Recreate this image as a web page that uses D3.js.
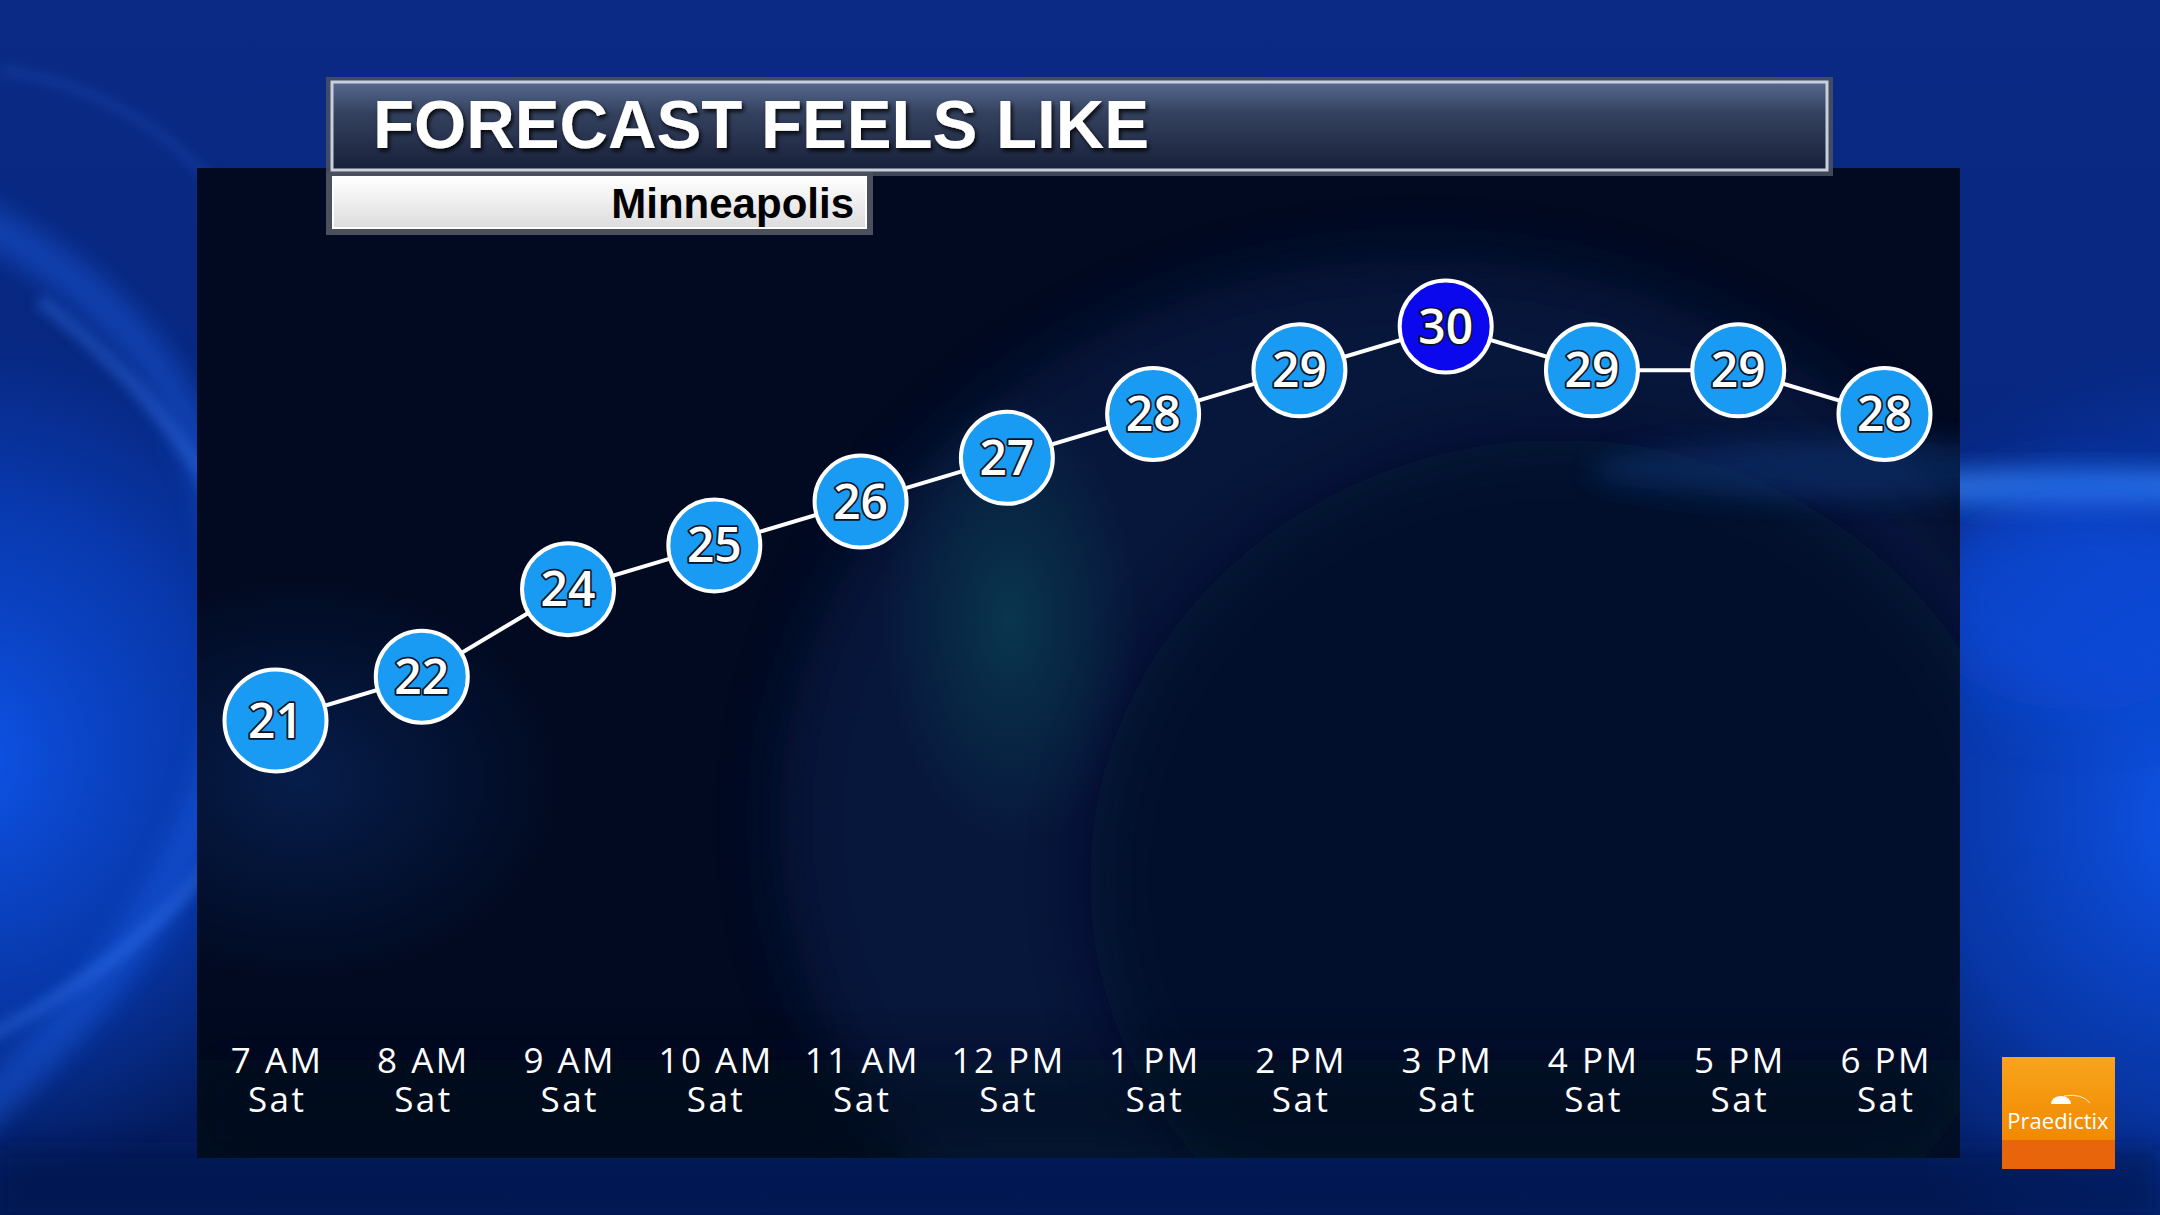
<!DOCTYPE html>
<html>
<head>
<meta charset="utf-8">
<script src="https://cdn.jsdelivr.net/npm/d3@7"></script>
<style>
  html, body { margin: 0; padding: 0; background: #031a5e; overflow: hidden; }
  svg { display: block; }
</style>
</head>
<body>
<svg id="chart" width="2160" height="1215"></svg>
<script>
// ---------- DATA ----------
const hours = ["7 AM", "8 AM", "9 AM", "10 AM", "11 AM", "12 PM", "1 PM", "2 PM", "3 PM", "4 PM", "5 PM", "6 PM"];
const days = ["Sat", "Sat", "Sat", "Sat", "Sat", "Sat", "Sat", "Sat", "Sat", "Sat", "Sat", "Sat"];
const feelsLike = [21, 22, 24, 25, 26, 27, 28, 29, 30, 29, 29, 28];
const titleText = "FORECAST FEELS LIKE";
const subtitleText = "Minneapolis";
const logoText = "Praedictix";

// ---------- SETUP ----------
const W = 2160, H = 1215;
const svg = d3.select("#chart");
const defs = svg.append("defs");

function radial(id, stops, cx = "50%", cy = "50%", r = "50%") {
  const g = defs.append("radialGradient").attr("id", id).attr("cx", cx).attr("cy", cy).attr("r", r);
  stops.forEach(s => g.append("stop").attr("offset", s[0]).attr("stop-color", s[1]).attr("stop-opacity", s[2] === undefined ? 1 : s[2]));
}
function linear(id, stops, x1, y1, x2, y2) {
  const g = defs.append("linearGradient").attr("id", id)
    .attr("x1", x1).attr("y1", y1).attr("x2", x2).attr("y2", y2);
  stops.forEach(s => g.append("stop").attr("offset", s[0]).attr("stop-color", s[1]).attr("stop-opacity", s[2] === undefined ? 1 : s[2]));
}
function blur(id, sd) {
  defs.append("filter").attr("id", id).attr("x", "-50%").attr("y", "-50%").attr("width", "200%").attr("height", "200%")
    .append("feGaussianBlur").attr("stdDeviation", sd);
}

linear("bgBase", [[0, "#0a2a85"], [0.45, "#06267e"], [1, "#031a58"]], "0", "0", "0", "1");
radial("blobBlue", [[0, "#0e55ea", 1], [0.6, "#0a46d0", 0.6], [1, "#0a40c0", 0]]);
radial("blobTeal", [[0, "#0b5560", 0.5], [1, "#0b5560", 0]]);
radial("blobNavy", [[0, "#0a2a66", 0.6], [1, "#0a2a66", 0]]);
linear("titleFill", [[0, "#56698f"], [0.35, "#34425f"], [1, "#18203a"]], "0", "0", "0", "1");
linear("subFill", [[0, "#ffffff"], [1, "#dcdcdc"]], "0", "0", "0", "1");
linear("logoTop", [[0, "#f8a41d"], [1, "#f18900"]], "0", "0", "0", "1");
blur("b30", 30);
blur("b12", 12);
blur("b6", 6);
defs.append("filter").attr("id", "shadow").attr("x", "-10%").attr("y", "-30%").attr("width", "130%").attr("height", "160%")
  .append("feDropShadow").attr("dx", 2).attr("dy", 3).attr("stdDeviation", 2).attr("flood-color", "#000").attr("flood-opacity", 0.85);

// ---------- BACKGROUND ----------
const bg = svg.append("g");
bg.append("rect").attr("width", W).attr("height", H).attr("fill", "url(#bgBase)");
bg.append("ellipse").attr("cx", -40).attr("cy", 760).attr("rx", 420).attr("ry", 430).attr("fill", "url(#blobBlue)");
bg.append("ellipse").attr("cx", 2200).attr("cy", 820).attr("rx", 420).attr("ry", 480).attr("fill", "url(#blobBlue)");
bg.append("path")
  .attr("d", "M -200,1260 C 150,1000 260,800 230,560 C 200,350 60,240 -120,180")
  .attr("fill", "none").attr("stroke", "#1f63f0").attr("stroke-width", 40).attr("opacity", 0.4).attr("filter", "url(#b12)");
bg.append("path")
  .attr("d", "M -150,1100 C 200,960 320,780 260,600 C 220,470 140,380 40,300")
  .attr("fill", "none").attr("stroke", "#3a7cf5").attr("stroke-width", 14).attr("opacity", 0.35).attr("filter", "url(#b6)");
bg.append("path")
  .attr("d", "M 0,70 C 150,90 260,200 270,320")
  .attr("fill", "none").attr("stroke", "#3a70e8").attr("stroke-width", 6).attr("opacity", 0.3).attr("filter", "url(#b6)");
bg.append("ellipse").attr("cx", 2060).attr("cy", 488).attr("rx", 260).attr("ry", 18).attr("fill", "#3a86f8").attr("opacity", 0.75).attr("filter", "url(#b12)");
bg.append("ellipse").attr("cx", 2080).attr("cy", 600).attr("rx", 160).attr("ry", 110).attr("fill", "#0c50e4").attr("opacity", 0.6).attr("filter", "url(#b30)");
bg.append("rect").attr("x", 0).attr("y", 1150).attr("width", W).attr("height", 70).attr("fill", "#031650").attr("opacity", 0.6).attr("filter", "url(#b12)");

// ---------- PANEL ----------
const panel = { x: 197, y: 168, w: 1763, h: 990 };
defs.append("clipPath").attr("id", "panelClip").append("rect")
  .attr("x", panel.x).attr("y", panel.y).attr("width", panel.w).attr("height", panel.h);
const pg = svg.append("g").attr("clip-path", "url(#panelClip)");
pg.append("rect").attr("x", panel.x).attr("y", panel.y).attr("width", panel.w).attr("height", panel.h).attr("fill", "#010a21");
pg.append("ellipse").attr("cx", 1420).attr("cy", 820).attr("rx", 640).attr("ry", 560).attr("fill", "#0a2356").attr("opacity", 0.5).attr("filter", "url(#b30)");
pg.append("ellipse").attr("cx", 1560).attr("cy", 880).attr("rx", 470).attr("ry", 440).attr("fill", "#020c25").attr("opacity", 0.7).attr("filter", "url(#b30)");
pg.append("ellipse").attr("cx", 1010).attr("cy", 620).attr("rx", 130).attr("ry", 230).attr("fill", "url(#blobTeal)");
pg.append("ellipse").attr("cx", 300).attr("cy", 780).attr("rx", 260).attr("ry", 200).attr("fill", "url(#blobNavy)");
pg.append("ellipse").attr("cx", 1850).attr("cy", 470).attr("rx", 260).attr("ry", 30).attr("fill", "#0b3a80").attr("opacity", 0.45).attr("filter", "url(#b12)");
pg.append("rect").attr("x", panel.x).attr("y", 1060).attr("width", panel.w).attr("height", 100).attr("fill", "#010819").attr("opacity", 0.5).attr("filter", "url(#b30)");

// ---------- SCALES ----------
const x = d3.scalePoint().domain(hours).range([275.5, 1884.5]);
const y = d3.scaleLinear().domain([21, 30]).range([720.5, 326.5]);
const maxV = d3.max(feelsLike), minV = d3.min(feelsLike);
const pts = hours.map((h, i) => ({ h, d: days[i], v: feelsLike[i] }));

// ---------- X AXIS LABELS ----------
const xAxis = d3.axisBottom(x).tickSize(0).tickPadding(0);
const axG = svg.append("g").attr("transform", "translate(0,1040)").call(xAxis);
axG.select(".domain").remove();
axG.selectAll(".tick text").remove();
axG.selectAll(".tick line").remove();
axG.selectAll(".tick").each(function(h, i) {
  const t = d3.select(this).append("text")
    .attr("fill", "#ffffff")
    .attr("text-anchor", "middle")
    .style("font-family", "'Open Sans', 'Noto Sans', sans-serif")
    .style("font-size", "35px")
    .style("letter-spacing", "2.5px");
  t.append("tspan").attr("x", 1.2).attr("y", 33).text(h);
  t.append("tspan").attr("x", 1.2).attr("y", 72).text(days[i]);
});

// ---------- LINE ----------
svg.append("path").datum(pts)
  .attr("d", d3.line().x(d => x(d.h)).y(d => y(d.v)))
  .attr("fill", "none").attr("stroke", "#ffffff").attr("stroke-width", 4);

// ---------- MARKERS ----------
const mk = svg.append("g").selectAll("g").data(pts).join("g")
  .attr("transform", d => `translate(${x(d.h)},${y(d.v)})`);
mk.append("circle")
  .attr("r", d => d.v === minV ? 51 : 46)
  .attr("fill", d => d.v === maxV ? "#0c08ee" : "#1a9bf3")
  .attr("stroke", "#ffffff").attr("stroke-width", 4);
mk.append("text")
  .attr("text-anchor", "middle")
  .attr("y", 17)
  .attr("fill", "#ffffff")
  .attr("stroke", "#0a1424").attr("stroke-width", 3.5).attr("stroke-linejoin", "round")
  .style("paint-order", "stroke")
  .style("font-family", "'Open Sans', 'Noto Sans', sans-serif")
  .style("font-weight", 600)
  .style("font-size", "48px")
  .text(d => d.v);

// ---------- TITLE BAR ----------
const tg = svg.append("g");
tg.append("rect").attr("x", 326).attr("y", 77).attr("width", 1507).attr("height", 99).attr("fill", "#4a5262").attr("opacity", 0.85);
tg.append("rect").attr("x", 332).attr("y", 82).attr("width", 1495).attr("height", 88)
  .attr("fill", "url(#titleFill)").attr("stroke", "#c9d0da").attr("stroke-width", 3);
tg.append("text")
  .attr("x", 373).attr("y", 148)
  .attr("fill", "#ffffff")
  .attr("filter", "url(#shadow)")
  .attr("textLength", 776).attr("lengthAdjust", "spacingAndGlyphs")
  .style("font-family", "'Liberation Sans', Arial, sans-serif")
  .style("font-weight", 700)
  .style("font-size", "69px")
  .text(titleText);

tg.append("rect").attr("x", 326).attr("y", 172).attr("width", 547).attr("height", 63).attr("fill", "#4a505c");
tg.append("rect").attr("x", 333).attr("y", 177).attr("width", 533).attr("height", 51)
  .attr("fill", "url(#subFill)").attr("stroke", "#ffffff").attr("stroke-width", 2);
tg.append("text")
  .attr("x", 854).attr("y", 218)
  .attr("text-anchor", "end")
  .attr("fill", "#000000")
  .style("font-family", "'Liberation Sans', Arial, sans-serif")
  .style("font-weight", 700)
  .style("font-size", "42px")
  .text(subtitleText);

// ---------- LOGO ----------
const lg = svg.append("g");
lg.append("rect").attr("x", 2002).attr("y", 1057).attr("width", 113).attr("height", 84).attr("fill", "url(#logoTop)");
lg.append("rect").attr("x", 2002).attr("y", 1140).attr("width", 113).attr("height", 29).attr("fill", "#e8650c");
lg.append("path").attr("d", "M 2051,1104 A 10,8 0 0 1 2071,1104 Z").attr("fill", "#ffffff");
lg.append("path").attr("d", "M 2064,1096 Q 2082,1093 2090,1103").attr("fill", "none").attr("stroke", "#ffffff").attr("stroke-width", 1).attr("opacity", 0.8);
lg.append("text")
  .attr("x", 2058).attr("y", 1129)
  .attr("text-anchor", "middle")
  .attr("fill", "#ffffff")
  .style("font-family", "'Open Sans', 'Noto Sans', sans-serif")
  .style("font-size", "22px")
  .text(logoText);
</script>
</body>
</html>
